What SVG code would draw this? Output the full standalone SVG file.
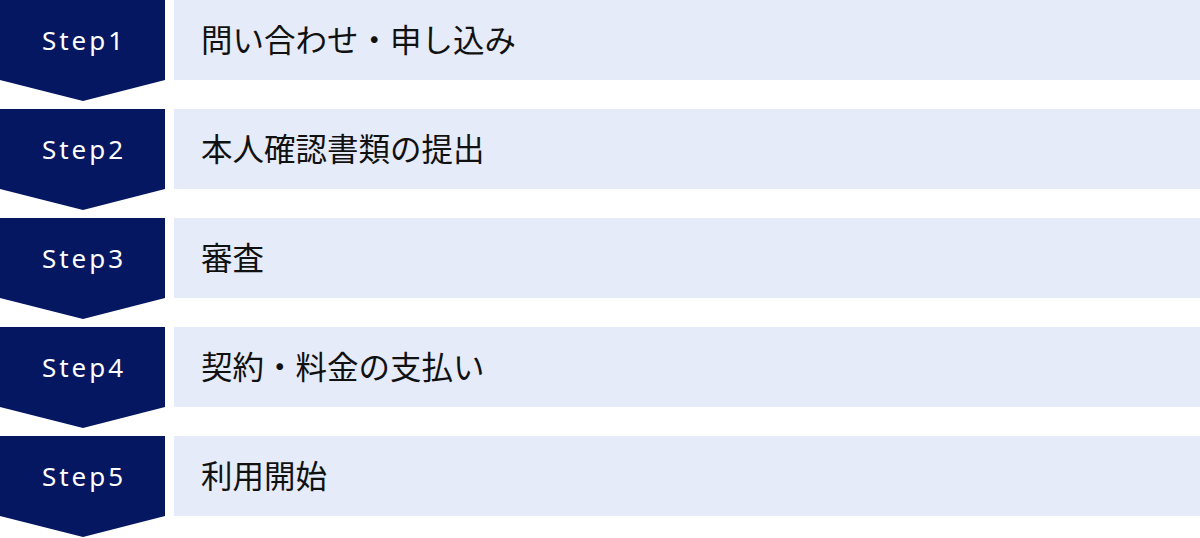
<svg xmlns="http://www.w3.org/2000/svg" width="1200" height="538" viewBox="0 0 1200 538">
<style>
.chev{fill:#061761}
.bar{fill:#E5EBF8}
.st{font-family:"Noto Sans","Liberation Sans",sans-serif;font-size:26px;fill:#ffffff;letter-spacing:3px;text-anchor:middle}
.lb{font-family:"Noto Sans CJK JP","Noto Sans",sans-serif;font-size:31.5px;fill:#111111;dominant-baseline:central}
</style>
<rect width="1200" height="538" fill="#ffffff"/>
<g id="step1">
<polygon class="chev" points="0,0 165,0 165,80 83,101 0,80"/>
<rect class="bar" x="174" y="0" width="1026" height="80"/>
<text class="st" x="84" y="50">Step1</text>
<text class="lb" x="201" y="37.5">問い合わせ・申し込み</text>
</g>
<g id="step2">
<polygon class="chev" points="0,109 165,109 165,189 83,210 0,189"/>
<rect class="bar" x="174" y="109" width="1026" height="80"/>
<text class="st" x="84" y="159">Step2</text>
<text class="lb" x="201" y="146.5">本人確認書類の提出</text>
</g>
<g id="step3">
<polygon class="chev" points="0,218 165,218 165,298 83,319 0,298"/>
<rect class="bar" x="174" y="218" width="1026" height="80"/>
<text class="st" x="84" y="268">Step3</text>
<text class="lb" x="201" y="255.5">審査</text>
</g>
<g id="step4">
<polygon class="chev" points="0,327 165,327 165,407 83,428 0,407"/>
<rect class="bar" x="174" y="327" width="1026" height="80"/>
<text class="st" x="84" y="377">Step4</text>
<text class="lb" x="201" y="364.5">契約・料金の支払い</text>
</g>
<g id="step5">
<polygon class="chev" points="0,436 165,436 165,516 83,537 0,516"/>
<rect class="bar" x="174" y="436" width="1026" height="80"/>
<text class="st" x="84" y="486">Step5</text>
<text class="lb" x="201" y="473.5">利用開始</text>
</g>
<g id="connectors"></g>
</svg>
